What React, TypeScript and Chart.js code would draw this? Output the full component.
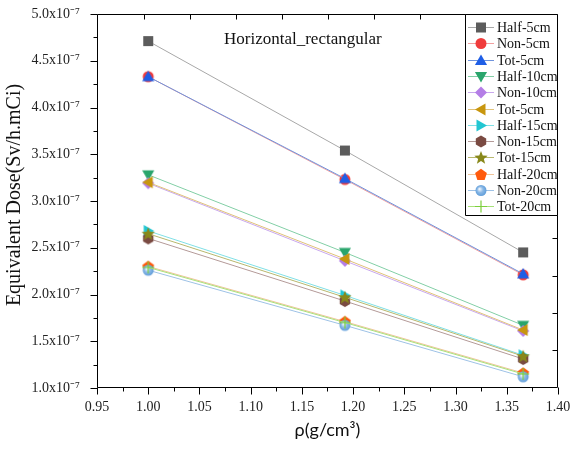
import React, { useEffect, useRef } from "react";
import { Chart, registerables } from "chart.js";

Chart.register(...registerables);

// Densities (g/cm^3)
const densities = [1.0, 1.192, 1.366];

// Axis ticks
const X_TICKS = [0.95, 1.0, 1.05, 1.1, 1.15, 1.2, 1.25, 1.3, 1.35, 1.4];
const Y_TICKS = [1.0, 1.5, 2.0, 2.5, 3.0, 3.5, 4.0, 4.5, 5.0]; // units of 1e-7 Sv/h.mCi

// Equivalent dose values (units of 1e-7 Sv/h.mCi)
const half5 = [4.71, 3.54, 2.45];
const non5 = [4.33, 3.23, 2.21];
const tot5 = [4.33, 3.24, 2.22];
const half10 = [3.28, 2.45, 1.67];
const non10 = [3.19, 2.36, 1.61];
const tot5b = [3.2, 2.38, 1.62];
const half15 = [2.68, 1.99, 1.35];
const non15 = [2.6, 1.93, 1.31];
const tot15 = [2.65, 1.97, 1.34];
const half20 = [2.3, 1.71, 1.16];
const non20 = [2.26, 1.67, 1.12];
const tot20 = [2.29, 1.7, 1.15];

const seriesNames = [
  "Half-5cm", "Non-5cm", "Tot-5cm", "Half-10cm", "Non-10cm", "Tot-5cm",
  "Half-15cm", "Non-15cm", "Tot-15cm", "Half-20cm", "Non-20cm", "Tot-20cm",
];
const seriesValues = [half5, non5, tot5, half10, non10, tot5b, half15, non15, tot15, half20, non20, tot20];
const markerColors = [
  "#5c5c5c", "#f03c3c", "#1f5ee6", "#2aa56c", "#b47ee6", "#c8960e",
  "#22c6d2", "#7a4a42", "#88881a", "#ff5a0c", "#5a9ad8", "#7ccf3c",
];
const lineColors = [
  "#a8a8a8", "#f2a0a0", "#6f93dc", "#82cfa6", "#c9a8ee", "#e0c27a",
  "#7fe0e6", "#b49a98", "#b8b86e", "#f0c49a", "#9ec2e6", "#a8e27a",
];
const shapes = [
  "square", "circle", "triUp", "triDown", "diamond", "triLeft",
  "triRight", "hexagon", "star", "pentagon", "sphere", "plus",
];

const SERIF = "'Liberation Serif', 'Times New Roman', serif";

function polygon(ctx: CanvasRenderingContext2D, cx: number, cy: number, r: number, n: number, rot: number) {
  ctx.beginPath();
  for (let i = 0; i < n; i++) {
    const a = rot + (i * 2 * Math.PI) / n;
    const x = cx + r * Math.cos(a);
    const y = cy + r * Math.sin(a);
    if (i === 0) ctx.moveTo(x, y);
    else ctx.lineTo(x, y);
  }
  ctx.closePath();
}

function drawShape(ctx: CanvasRenderingContext2D, shape: string, cx: number, cy: number, color: string) {
  ctx.save();
  ctx.fillStyle = color;
  ctx.strokeStyle = color;
  const up = -Math.PI / 2;
  switch (shape) {
    case "square":
      ctx.fillRect(cx - 5, cy - 5, 10, 10);
      break;
    case "circle":
      ctx.beginPath();
      ctx.arc(cx, cy, 5.5, 0, Math.PI * 2);
      ctx.fill();
      break;
    case "triUp":
      polygon(ctx, cx, cy + 1, 7, 3, up);
      ctx.fill();
      break;
    case "triDown":
      polygon(ctx, cx, cy - 1, 7, 3, Math.PI / 2);
      ctx.fill();
      break;
    case "triLeft":
      polygon(ctx, cx + 1, cy, 7, 3, Math.PI);
      ctx.fill();
      break;
    case "triRight":
      polygon(ctx, cx - 1, cy, 7, 3, 0);
      ctx.fill();
      break;
    case "diamond":
      polygon(ctx, cx, cy, 6, 4, up);
      ctx.fill();
      break;
    case "hexagon":
      polygon(ctx, cx, cy, 6, 6, up);
      ctx.fill();
      break;
    case "pentagon":
      polygon(ctx, cx, cy + 0.5, 6.2, 5, up);
      ctx.fill();
      break;
    case "star": {
      ctx.beginPath();
      for (let i = 0; i < 10; i++) {
        const r = i % 2 === 0 ? 7 : 3;
        const a = up + (i * Math.PI) / 5;
        const x = cx + r * Math.cos(a);
        const y = cy + 0.5 + r * Math.sin(a);
        if (i === 0) ctx.moveTo(x, y);
        else ctx.lineTo(x, y);
      }
      ctx.closePath();
      ctx.fill();
      break;
    }
    case "sphere": {
      const g = ctx.createRadialGradient(cx - 1.5, cy - 1.5, 0.5, cx, cy, 6);
      g.addColorStop(0, "#eaf3fc");
      g.addColorStop(0.45, "#8ab8e6");
      g.addColorStop(1, color);
      ctx.fillStyle = g;
      ctx.beginPath();
      ctx.arc(cx, cy, 5.5, 0, Math.PI * 2);
      ctx.fill();
      break;
    }
    case "plus":
      ctx.lineWidth = 1.2;
      ctx.beginPath();
      ctx.moveTo(cx - 6, cy);
      ctx.lineTo(cx + 6, cy);
      ctx.moveTo(cx, cy - 6);
      ctx.lineTo(cx, cy + 6);
      ctx.stroke();
      break;
  }
  ctx.restore();
}

function makeMarker(shape: string, color: string): HTMLCanvasElement {
  const c = document.createElement("canvas");
  c.width = 16;
  c.height = 16;
  const ctx = c.getContext("2d")!;
  drawShape(ctx, shape, 8, 8, color);
  return c;
}

function line(ctx: CanvasRenderingContext2D, x1: number, y1: number, x2: number, y2: number) {
  ctx.beginPath();
  ctx.moveTo(x1, y1);
  ctx.lineTo(x2, y2);
  ctx.stroke();
}

const framePlugin = {
  id: "frameAndLegend",
  afterDraw(chart: any) {
    const ctx: CanvasRenderingContext2D = chart.ctx;
    const xs = chart.scales.x;
    const ys = chart.scales.y;
    const L = Math.round(xs.getPixelForValue(0.95)) + 0.5;
    const R = Math.round(xs.getPixelForValue(1.4)) - 0.5;
    const T = Math.round(ys.getPixelForValue(5.0)) + 0.5;
    const B = Math.round(ys.getPixelForValue(1.0)) - 0.5;
    ctx.save();
    ctx.globalAlpha = 1;
    ctx.setLineDash([]);
    ctx.strokeStyle = "#000000";
    ctx.lineWidth = 1;
    line(ctx, L, T, R, T);
    line(ctx, L, B, R, B);
    line(ctx, L, T, L, B);
    line(ctx, R, T, R, B);

    // bottom ticks (outward), major + minor
    X_TICKS.forEach((v, i) => {
      const px = Math.round(xs.getPixelForValue(v)) + 0.5;
      line(ctx, px, B, px, B + 7);
      if (i < X_TICKS.length - 1) {
        const mx = Math.round(xs.getPixelForValue((v + X_TICKS[i + 1]) / 2)) + 0.5;
        line(ctx, mx, B, mx, B + 4);
      }
    });
    // left ticks (outward)
    Y_TICKS.forEach((v, i) => {
      const py = Math.round(ys.getPixelForValue(v)) + 0.5;
      line(ctx, L - 7, py, L, py);
      if (i < Y_TICKS.length - 1) {
        const my = Math.round(ys.getPixelForValue((v + Y_TICKS[i + 1]) / 2)) + 0.5;
        line(ctx, L - 4, my, L, my);
      }
    });
    // right & top ticks (inward), 10 divisions
    for (let k = 1; k < 10; k++) {
      const py = Math.round(T + ((B - T) * k) / 10) + 0.5;
      line(ctx, R - 5, py, R, py);
      const px = Math.round(L + ((R - L) * k) / 10) + 0.5;
      line(ctx, px, T, px, T + 5);
    }

    // plot title
    ctx.fillStyle = "#111";
    ctx.font = `17px ${SERIF}`;
    ctx.textAlign = "left";
    ctx.textBaseline = "middle";
    ctx.fillText("Horizontal_rectangular", 224, 40);

    // y-axis title
    ctx.save();
    ctx.translate(15, 195);
    ctx.rotate(-Math.PI / 2);
    ctx.font = `20px ${SERIF}`;
    ctx.textAlign = "center";
    ctx.textBaseline = "middle";
    ctx.fillText("Equivalent Dose(Sv/h.mCi)", 0, 0);
    ctx.restore();

    // x-axis title
    ctx.font = `18px 'Lato', 'DejaVu Sans', sans-serif`;
    ctx.textAlign = "center";
    ctx.textBaseline = "middle";
    ctx.fillText("ρ(g/cm³)", (L + R) / 2, 430);

    // legend
    const lx0 = 465.5;
    const ly1 = 215.5;
    ctx.fillStyle = "#fff";
    ctx.fillRect(lx0, T, R - lx0, ly1 - T);
    ctx.strokeStyle = "#000000";
    line(ctx, lx0, T, lx0, ly1);
    line(ctx, lx0, ly1, R, ly1);
    line(ctx, lx0, T, R, T);
    line(ctx, R, T, R, ly1);
    ctx.font = `14px ${SERIF}`;
    ctx.textAlign = "left";
    ctx.textBaseline = "middle";
    seriesNames.forEach((name, i) => {
      const y = Math.round(27 + i * 16.3) + 0.5;
      ctx.strokeStyle = lineColors[i];
      ctx.lineWidth = 1;
      line(ctx, 468, y, 494, y);
      drawShape(ctx, shapes[i], 481, y, markerColors[i]);
      ctx.fillStyle = "#111";
      ctx.fillText(name, 497, y + 0.5);
    });
    ctx.restore();
  },
};

export default function App() {
  const canvasRef = useRef<HTMLCanvasElement | null>(null);

  useEffect(() => {
    if (!canvasRef.current) return;
    const datasets = seriesNames.map((name, i) => {
      const marker = makeMarker(shapes[i], markerColors[i]);
      return {
        label: name,
        data: densities.map((x, j) => ({ x, y: seriesValues[i][j] })),
        borderColor: lineColors[i],
        backgroundColor: markerColors[i],
        borderWidth: 1,
        pointStyle: marker as any,
        pointRadius: 6,
        pointHoverRadius: 6,
        showLine: true,
        tension: 0,
        order: 20 - i,
      };
    });

    const chart = new Chart(canvasRef.current, {
      type: "scatter",
      data: { datasets },
      options: {
        animation: false,
        responsive: false,
        devicePixelRatio: 1,
        layout: { padding: { top: 14, right: 16, left: 0, bottom: 0 } },
        plugins: {
          legend: { display: false },
          tooltip: { enabled: false },
          title: { display: false },
        },
        scales: {
          x: {
            type: "linear",
            min: 0.95,
            max: 1.4,
            afterBuildTicks: (s: any) => {
              s.ticks = X_TICKS.map((v) => ({ value: v }));
            },
            afterFit: (s: any) => {
              s.height = 62;
              s.paddingLeft = 0;
              s.paddingRight = 0;
            },
            grid: { display: false, drawTicks: false },
            border: { display: false },
            ticks: {
              padding: 11,
              color: "#222",
              font: { family: SERIF, size: 14 },
              maxRotation: 0,
              autoSkip: false,
              callback: (v: any) => Number(v).toFixed(2),
            },
          },
          y: {
            type: "linear",
            min: 1.0,
            max: 5.0,
            afterBuildTicks: (s: any) => {
              s.ticks = Y_TICKS.map((v) => ({ value: v }));
            },
            afterFit: (s: any) => {
              s.width = 97;
              s.paddingTop = 0;
              s.paddingBottom = 0;
            },
            grid: { display: false, drawTicks: false },
            border: { display: false },
            ticks: {
              padding: 17,
              color: "#222",
              font: { family: SERIF, size: 14 },
              autoSkip: false,
              callback: (v: any) => `${Number(v).toFixed(1)}x10⁻⁷`,
            },
          },
        },
      },
      plugins: [framePlugin],
    });
    return () => chart.destroy();
  }, []);

  return (
    <div style={{ position: "absolute", left: 0, top: 0, width: 574, height: 450, background: "#fff" }}>
      <canvas ref={canvasRef} width={574} height={450} style={{ width: 574, height: 450, display: "block" }} />
    </div>
  );
}
